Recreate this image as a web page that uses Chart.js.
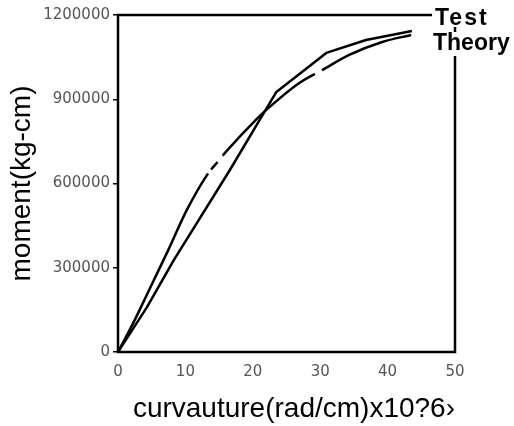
<!DOCTYPE html>
<html>
<head>
<meta charset="utf-8">
<script src="https://cdn.jsdelivr.net/npm/chart.js@4.4.0/dist/chart.umd.min.js"></script>
<style>
  body { margin: 0; background: #fff; }
  canvas { display: block; }
</style>
</head>
<body>
<canvas id="chart" width="514" height="426"></canvas>
<script>
// values
const testCurvature = [0, 4.3, 8.3, 16.6, 21.0, 23.5, 30.9, 36.8, 43.6];
const testMoment = [0, 160000, 328000, 648000, 826000, 926000, 1065000, 1111000, 1143000];
const theoryCurvature = [0, 2.4, 4.6, 7.4, 10.2, 13.2, 14.7, 16.1, 20.6, 22.0, 26.9, 30.3, 34.3, 39.2, 43.5];
const theoryMoment = [0, 110000, 220000, 360000, 505000, 630000, 675000, 715000, 830000, 862000, 958000, 1004000, 1058000, 1104000, 1129000];
const xTicks = [0, 10, 20, 30, 40, 50];
const yTicks = [0, 300000, 600000, 900000, 1200000];
const legendLabels = ['Test', 'Theory'];

const toPoints = (xs, ys) => xs.map((x, i) => ({ x: x, y: ys[i] }));

const tickFont = { family: '"DejaVu Sans", sans-serif', size: 15 };
const titleFont = { family: '"Liberation Sans", Arial, sans-serif', size: 28 };

// box around the plot + the two legend words sitting on the top right corner
const framePlugin = {
  id: 'frame',
  afterDraw(chart) {
    const { ctx, chartArea: a } = chart;
    ctx.save();
    ctx.strokeStyle = '#000';
    ctx.lineWidth = 2.5;
    ctx.strokeRect(a.left, a.top, a.right - a.left, a.bottom - a.top);

    ctx.font = 'bold 23px "Liberation Sans", Arial, sans-serif';
    ctx.textBaseline = 'alphabetic';
    const spots = [[a.right - 20, a.top + 10], [a.right - 22, a.top + 35]];
    legendLabels.forEach((label, i) => {
      const [lx, ly] = spots[i];
      ctx.letterSpacing = label === 'Test' ? '2px' : '0px';
      const w = ctx.measureText(label).width;
      ctx.fillStyle = '#fff';
      ctx.fillRect(lx - 3, ly - 18, w + 6, label === 'Theory' ? 24 : 20);
      ctx.fillStyle = '#000';
      ctx.fillText(label, lx, ly);
    });
    ctx.restore();
  }
};

new Chart(document.getElementById('chart'), {
  type: 'scatter',
  data: {
    datasets: [
      {
        label: legendLabels[0],
        data: toPoints(testCurvature, testMoment),
        showLine: true,
        borderColor: '#000',
        borderWidth: 2.5,
        borderJoinStyle: 'round',
        pointRadius: 0,
        tension: 0,
      },
      {
        label: legendLabels[1],
        data: toPoints(theoryCurvature, theoryMoment),
        showLine: true,
        borderColor: '#000',
        borderWidth: 2.5,
        borderJoinStyle: 'round',
        borderDash: [200, 5, 10, 8, 124, 8, 2000, 0],
        cubicInterpolationMode: 'monotone',
        pointRadius: 0,
      },
    ],
  },
  options: {
    responsive: false,
    animation: false,
    layout: { padding: { top: 15, right: 59, left: 0, bottom: 0 } },
    plugins: {
      legend: { display: false },
      tooltip: { enabled: false },
    },
    scales: {
      x: {
        type: 'linear',
        min: 0,
        max: 50,
        afterBuildTicks: (s) => { s.ticks = xTicks.map((v) => ({ value: v })); },
        afterFit: (s) => { s.height = 74; },
        grid: { display: false },
        border: { display: false },
        ticks: { font: tickFont, color: '#555', padding: 3, maxRotation: 0 },
        title: {
          display: true,
          text: 'curvauture(rad/cm)x10?6›',
          font: titleFont,
          color: '#000',
          align: 'end',
          padding: 0,
        },
      },
      y: {
        type: 'linear',
        min: 0,
        max: 1200000,
        afterBuildTicks: (s) => { s.ticks = yTicks.map((v) => ({ value: v })); },
        afterFit: (s) => { s.width = 118; },
        grid: { drawOnChartArea: false, tickLength: 5, color: '#000', lineWidth: 1.5 },
        border: { display: false },
        ticks: { font: tickFont, color: '#555', padding: 3, callback: (v) => String(v) },
        title: {
          display: true,
          text: 'moment(kg-cm)',
          font: titleFont,
          color: '#000',
          padding: { top: 5, bottom: 0 },
        },
      },
    },
  },
  plugins: [framePlugin],
});
</script>
</body>
</html>
